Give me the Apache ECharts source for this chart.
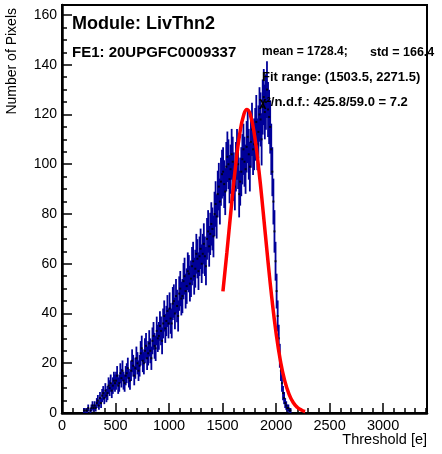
<!DOCTYPE html>
<html>
<head>
<meta charset="utf-8">
<script src="https://cdn.jsdelivr.net/npm/echarts@6/dist/echarts.min.js"></script>
<style>
html,body{margin:0;padding:0;background:#fff;}
#chart{width:442px;height:454px;}
</style>
</head>
<body>
<div id="chart"></div>
<script>
// Histogram: bin width 10, first bin centre 205
const binStart = 200;
const binWidth = 10;
const counts = [
  1,0,1,1,2,0,1,2,3,2,
  3,2,4,5,3,6,4,7,8,6,
  9,7,8,11,10,12,9,11,13,12,
  13,15,11,12,16,14,17,13,12,15,
  16,18,14,13,17,21,19,15,18,22,
  20,17,19,24,26,21,20,25,27,22,
  24,28,25,22,29,31,27,26,33,30,
  31,35,33,29,36,39,34,37,41,36,
  42,38,36,44,45,40,47,43,39,48,
  50,46,47,53,55,49,51,57,56,52,
  54,59,61,55,58,64,62,57,63,66,
  60,64,68,63,59,70,73,67,72,76,
  74,71,80,84,79,88,91,85,93,96,
  97,92,89,99,103,100,94,98,104,101,
  95,91,99,104,100,88,93,97,102,106,
  101,98,107,111,104,99,109,114,106,108,
  112,117,108,113,120,118,110,123,127,121,
  125,130,122,119,115,106,97,85,73,61,
  49,39,30,23,17,12,8,6,4,3,
  2,2,1,1,0
];
// Fitted curve
const fitX = [1503.5,1540,1580,1620,1660,1700,1728.4,1760,1800,1840,1880,1920,1960,2000,2040,2080,2120,2160,2200,2240,2271.5];
const fitY = [48.9,64.3,82.0,98.7,112.1,120.2,122.0,119.8,111.2,97.4,80.6,62.9,46.3,32.2,21.1,13.1,7.7,4.2,2.2,1.1,0.6];

const xTicks = [0,500,1000,1500,2000,2500,3000];
const yTicks = [0,20,40,60,80,100,120,140,160];

const titleText = 'Module: LivThn2';
const feText = 'FE1: 20UPGFC0009337';
const meanText = 'mean = 1728.4;';
const stdText = 'std = 166.4';
const fitRangeText = 'Fit range: (1503.5, 2271.5)';
const chiText = 'χ²/n.d.f.: 425.8/59.0 = 7.2';
const xTitle = 'Threshold [e]';
const yTitle = 'Number of Pixels';

const pts = [];
const errs = [];
counts.forEach((c, i) => {
  if (c <= 0) return;
  const x = binStart + binWidth * (i + 0.5);
  pts.push([x, c]);
  errs.push([x, c, Math.sqrt(c)]);
});
const fitData = fitX.map((x, i) => [x, fitY[i]]);

const FONT = '"Liberation Sans", Arial, sans-serif';
const XMAX = 3410, YMAX = 164;

const chart = echarts.init(document.getElementById('chart'), null, {renderer: 'canvas'});
chart.setOption({
  animation: false,
  backgroundColor: '#fff',
  grid: {left: 62, right: 15, top: 5, bottom: 41, show: true, borderColor: '#000', borderWidth: 2, backgroundColor: 'transparent'},
  xAxis: [
    {
      type: 'value', min: 0, max: XMAX, interval: 500, position: 'bottom',
      axisLine: {lineStyle: {color: '#000', width: 2.5}},
      axisTick: {inside: true, length: 10, lineStyle: {color: '#000', width: 1.5}},
      axisLabel: {margin: 5, color: '#000', fontFamily: FONT, fontSize: 14.5,
        formatter: v => xTicks.includes(v) ? String(v) : ''},
      splitLine: {show: false}
    },
    {
      type: 'value', min: 0, max: XMAX, interval: 100, position: 'bottom', offset: 0,
      axisLine: {show: false},
      axisTick: {inside: true, length: 5, lineStyle: {color: '#000', width: 1.5}},
      axisLabel: {show: false},
      splitLine: {show: false}
    }
  ],
  yAxis: [
    {
      type: 'value', min: 0, max: YMAX, interval: 20, position: 'left',
      axisLine: {show: true, lineStyle: {color: '#000', width: 2.5}},
      axisTick: {show: true, inside: true, length: 10, lineStyle: {color: '#000', width: 1.5}},
      axisLabel: {margin: 5, color: '#000', fontFamily: FONT, fontSize: 14,
        formatter: v => yTicks.includes(v) ? String(v) : ''},
      splitLine: {show: false}
    },
    {
      type: 'value', min: 0, max: YMAX, interval: 5, position: 'left', offset: 0,
      axisLine: {show: false},
      axisTick: {show: true, inside: true, length: 5, lineStyle: {color: '#000', width: 1.5}},
      axisLabel: {show: false},
      splitLine: {show: false}
    }
  ],
  series: [
    {
      type: 'custom', clip: true, data: errs, z: 2,
      renderItem: (params, api) => {
        const x = api.value(0), y = api.value(1), e = api.value(2);
        const p1 = api.coord([x, Math.max(0, y - e)]);
        const p2 = api.coord([x, y + e]);
        return {type: 'line', shape: {x1: p1[0], y1: p1[1], x2: p2[0], y2: p2[1]},
          style: {stroke: '#000099', lineWidth: 1.8}};
      }
    },
    {
      type: 'scatter', data: pts, symbol: 'rect', symbolSize: 2,
      itemStyle: {color: '#000'}, z: 3, silent: true
    },
    {
      type: 'line', data: fitData, smooth: true, showSymbol: false, z: 4,
      lineStyle: {color: '#ff0000', width: 3.5}
    }
  ],
  graphic: [
    {type: 'text', left: 72, top: 15, z: 10, style: {text: titleText, font: 'bold 18px ' + FONT, fill: '#000'}},
    {type: 'text', left: 72, top: 45, z: 10, style: {text: feText, font: 'bold 15px ' + FONT, fill: '#000'}},
    {type: 'text', left: 262, top: 46, z: 10, style: {text: meanText, font: 'bold 12px ' + FONT, fill: '#000'}},
    {type: 'text', left: 370, top: 46, z: 10, style: {text: stdText, font: 'bold 12.5px ' + FONT, fill: '#000'}},
    {type: 'text', left: 262, top: 71, z: 10, style: {text: fitRangeText, font: 'bold 13px ' + FONT, fill: '#000'}},
    {type: 'text', left: 259, top: 96, z: 10, style: {text: chiText, font: 'bold 13px ' + FONT, fill: '#000'}},
    {type: 'text', right: 15, top: 432, z: 10, style: {text: xTitle, font: '14.5px ' + FONT, fill: '#000'}},
    {type: 'text', left: 5, top: 8, rotation: Math.PI / 2, originX: 0, originY: 0, z: 10,
      style: {text: yTitle, font: '14px ' + FONT, fill: '#000'}}
  ]
});
</script>
</body>
</html>
